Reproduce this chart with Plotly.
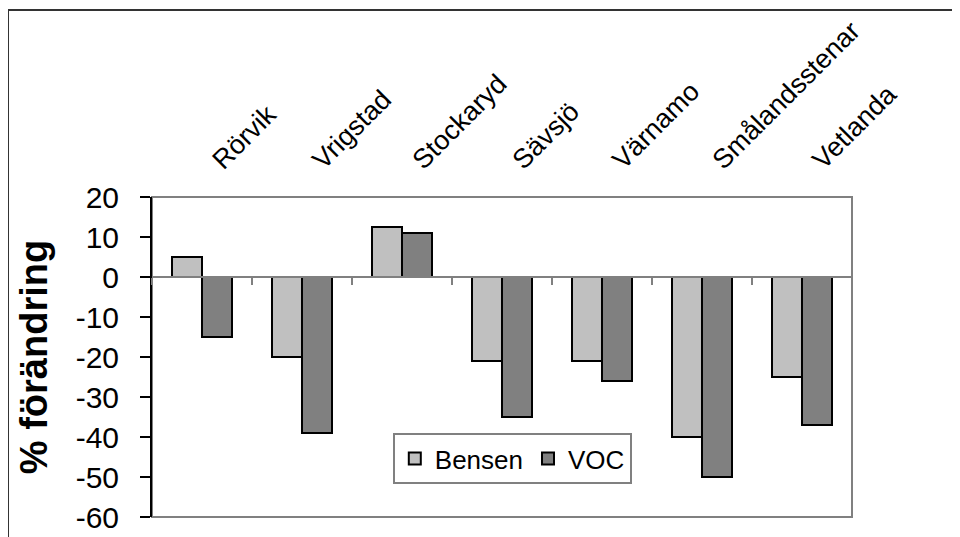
import plotly.graph_objects as go

categories = ["Rörvik", "Vrigstad", "Stockaryd", "Sävsjö", "Värnamo", "Smålandsstenar", "Vetlanda"]
bensen = [5, -20, 12.5, -21, -21, -40, -25]
voc = [-15, -39, 11, -35, -26, -50, -37]
y_ticks = [20, 10, 0, -10, -20, -30, -40, -50, -60]

FONT = "Liberation Sans, Arial, sans-serif"

fig = go.Figure()
fig.add_trace(go.Bar(x=categories, y=bensen, name="Bensen",
                     marker=dict(color="#C0C0C0", line=dict(color="black", width=2))))
fig.add_trace(go.Bar(x=categories, y=voc, name="VOC",
                     marker=dict(color="#808080", line=dict(color="black", width=2))))
# invisible trace to carry the top category labels
fig.add_trace(go.Scatter(x=categories, y=bensen, xaxis="x2", mode="markers",
                         marker=dict(opacity=0), showlegend=False, hoverinfo="skip"))

fig.update_layout(
    width=952, height=529,
    margin=dict(l=144, r=108, t=189, b=20, autoexpand=False),
    paper_bgcolor="white", plot_bgcolor="white",
    font=dict(family=FONT, color="black"),
    barmode="group", bargap=0.4, bargroupgap=0,
    showlegend=True,
    legend=dict(orientation="h", x=0.344, y=0.2625, xanchor="left", yanchor="top",
                bgcolor="white", bordercolor="#808080", borderwidth=2,
                font=dict(size=26, family=FONT), itemwidth=30, tracegroupgap=0),
    xaxis=dict(type="category", categoryorder="array", categoryarray=categories,
               range=[-0.5, 6.5], anchor="free", position=0.75, automargin=False,
               showline=True, linecolor="#808080", linewidth=2,
               ticks="outside", tickson="boundaries", ticklen=7, tickcolor="#808080", tickwidth=2,
               showticklabels=False, showgrid=False, zeroline=False),
    xaxis2=dict(type="category", categoryorder="array", categoryarray=categories,
                range=[-0.5, 6.5], overlaying="x", side="top", anchor="y", automargin=False,
                showline=False, ticks="", showgrid=False, tickangle=-45,
                tickfont=dict(size=27, family=FONT), ticklabelstandoff=16, ticklabelshift=12),
    yaxis=dict(range=[-60, 20], tickvals=y_ticks, ticktext=[str(v) for v in y_ticks],
               automargin=False,
               showline=True, linecolor="black", linewidth=2,
               ticks="outside", ticklen=10, tickcolor="black", tickwidth=2, ticklabelstandoff=15,
               tickfont=dict(size=30, family=FONT), showgrid=False, zeroline=False,
               title=dict(text="<b>% förändring</b>", font=dict(size=38, family=FONT), standoff=16)),
    shapes=[
        dict(type="rect", xref="paper", yref="paper", x0=0, x1=1, y0=0, y1=1,
             line=dict(color="#808080", width=2), layer="below"),
        dict(type="line", xref="paper", yref="paper", x0=-0.2057, x1=1.2, y0=1.584, y1=1.584,
             line=dict(color="#333333", width=2)),
        dict(type="line", xref="paper", yref="paper", x0=-0.2057, x1=-0.2057, y0=1.584, y1=-0.2,
             line=dict(color="#333333", width=2)),
    ],
)

fig.write_html("out.html")
